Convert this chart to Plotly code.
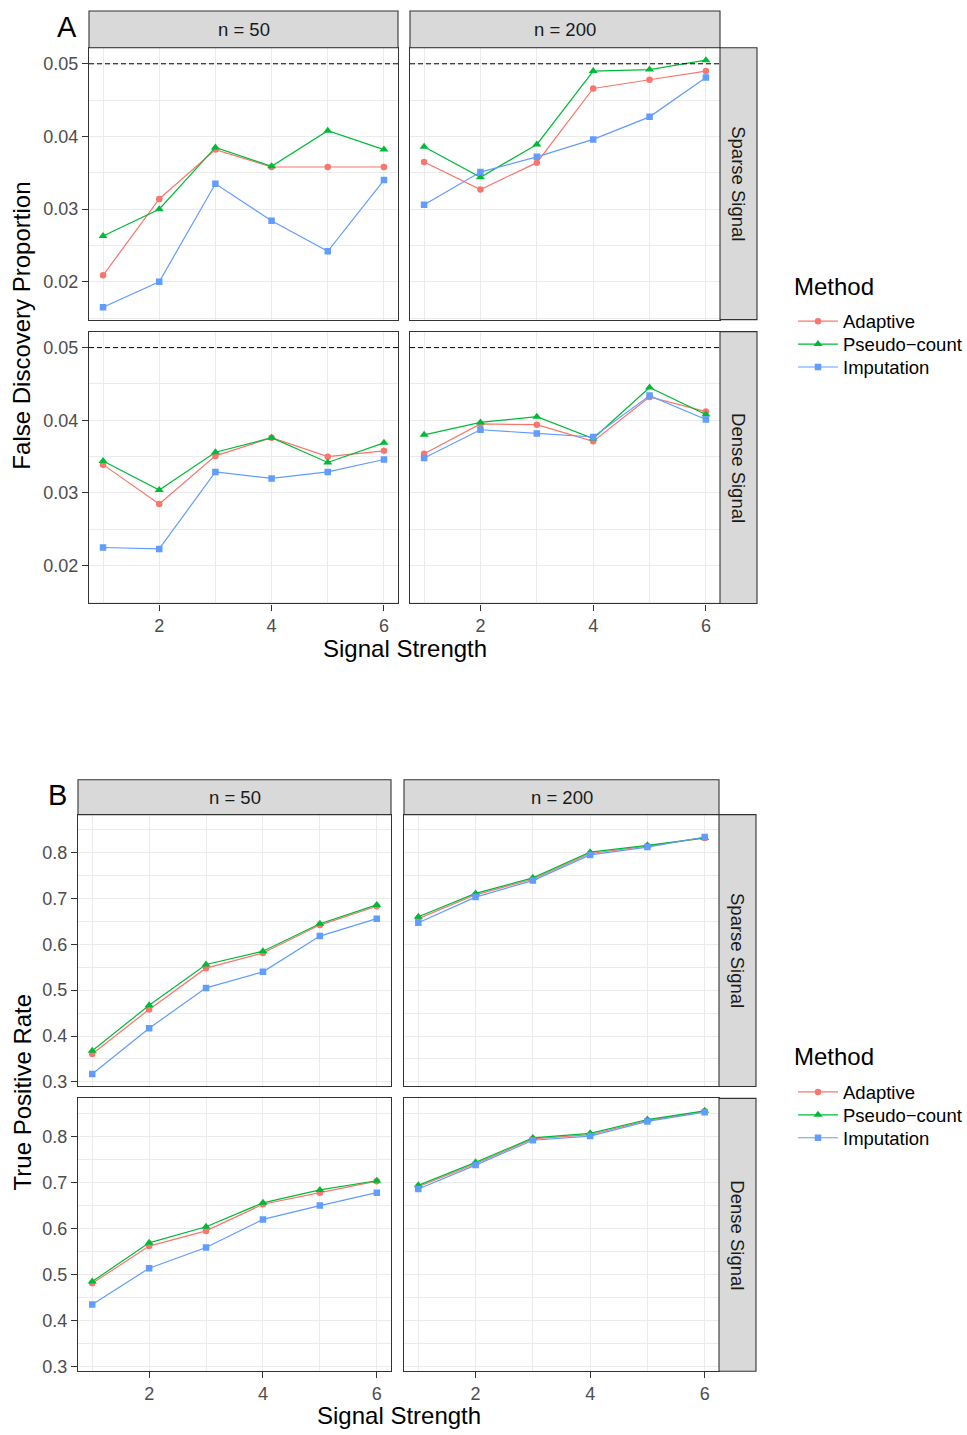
import plotly.graph_objects as go

# ---- data -------------------------------------------------------------
signal_strength = [1, 2, 3, 4, 5, 6]
methods = ["Adaptive", "Pseudo\u2212count", "Imputation"]
sample_sizes = ["n = 50", "n = 200"]
signal_types = ["Sparse Signal", "Dense Signal"]
fdr_level = 0.05

# False discovery proportion
fdr_sparse_n50_adaptive = [0.0209, 0.0314, 0.0382, 0.0358, 0.0358, 0.0358]
fdr_sparse_n50_pseudo = [0.0263, 0.0300, 0.0385, 0.0359, 0.0408, 0.0382]
fdr_sparse_n50_imputation = [0.0165, 0.0200, 0.0335, 0.0284, 0.0242, 0.0340]

fdr_sparse_n200_adaptive = [0.0365, 0.0327, 0.0364, 0.0466, 0.0478, 0.0490]
fdr_sparse_n200_pseudo = [0.0386, 0.0344, 0.0389, 0.0490, 0.0492, 0.0505]
fdr_sparse_n200_imputation = [0.0306, 0.0351, 0.0372, 0.0396, 0.0427, 0.0481]

fdr_dense_n50_adaptive = [0.0339, 0.0285, 0.0351, 0.0376, 0.0350, 0.0358]
fdr_dense_n50_pseudo = [0.0344, 0.0304, 0.0356, 0.0376, 0.0342, 0.0369]
fdr_dense_n50_imputation = [0.0225, 0.0223, 0.0329, 0.0320, 0.0329, 0.0346]

fdr_dense_n200_adaptive = [0.0354, 0.0395, 0.0394, 0.0371, 0.0432, 0.0412]
fdr_dense_n200_pseudo = [0.0380, 0.0397, 0.0405, 0.0375, 0.0445, 0.0408]
fdr_dense_n200_imputation = [0.0348, 0.0387, 0.0382, 0.0377, 0.0434, 0.0401]

# True positive rate
tpr_sparse_n50_adaptive = [0.361, 0.458, 0.548, 0.581, 0.642, 0.683]
tpr_sparse_n50_pseudo = [0.368, 0.467, 0.556, 0.585, 0.645, 0.686]
tpr_sparse_n50_imputation = [0.317, 0.417, 0.505, 0.540, 0.618, 0.656]

tpr_sparse_n200_adaptive = [0.656, 0.708, 0.742, 0.798, 0.814, 0.832]
tpr_sparse_n200_pseudo = [0.660, 0.711, 0.745, 0.801, 0.816, 0.832]
tpr_sparse_n200_imputation = [0.647, 0.703, 0.739, 0.795, 0.812, 0.834]

tpr_dense_n50_adaptive = [0.481, 0.562, 0.595, 0.653, 0.678, 0.703]
tpr_dense_n50_pseudo = [0.485, 0.569, 0.604, 0.656, 0.684, 0.704]
tpr_dense_n50_imputation = [0.435, 0.514, 0.559, 0.620, 0.650, 0.678]

tpr_dense_n200_adaptive = [0.691, 0.741, 0.795, 0.804, 0.835, 0.855]
tpr_dense_n200_pseudo = [0.694, 0.744, 0.797, 0.807, 0.837, 0.856]
tpr_dense_n200_imputation = [0.686, 0.738, 0.792, 0.801, 0.833, 0.853]

fdr_ticks = [0.02, 0.03, 0.04, 0.05]
fdr_minor = [0.015, 0.025, 0.035, 0.045]
tpr_ticks = [0.3, 0.4, 0.5, 0.6, 0.7, 0.8]
tpr_minor = [0.35, 0.45, 0.55, 0.65, 0.75, 0.85]
x_ticks = [2, 4, 6]
x_minor = [1, 3, 5]

# ---- styling ----------------------------------------------------------
W, H = 967, 1435
FONT = "Liberation Sans, Arial, sans-serif"
colors = ["#F8766D", "#00BA38", "#619CFF"]
symbols = ["circle", "triangle-up", "square"]
marker_sizes = [6.5, 8, 6.5]
GRID = "#EBEBEB"
BORDER = "#333333"
STRIP_FILL = "#D9D9D9"
TICK_SIZE = 18
STRIP_SIZE = 18.5
LEGEND_SIZE = 18.5
TITLE_SIZE = 24

fdr_panels = [
    [[fdr_sparse_n50_adaptive, fdr_sparse_n50_pseudo, fdr_sparse_n50_imputation],
     [fdr_sparse_n200_adaptive, fdr_sparse_n200_pseudo, fdr_sparse_n200_imputation]],
    [[fdr_dense_n50_adaptive, fdr_dense_n50_pseudo, fdr_dense_n50_imputation],
     [fdr_dense_n200_adaptive, fdr_dense_n200_pseudo, fdr_dense_n200_imputation]],
]
tpr_panels = [
    [[tpr_sparse_n50_adaptive, tpr_sparse_n50_pseudo, tpr_sparse_n50_imputation],
     [tpr_sparse_n200_adaptive, tpr_sparse_n200_pseudo, tpr_sparse_n200_imputation]],
    [[tpr_dense_n50_adaptive, tpr_dense_n50_pseudo, tpr_dense_n50_imputation],
     [tpr_dense_n200_adaptive, tpr_dense_n200_pseudo, tpr_dense_n200_imputation]],
]


def px_x(p):
    return p / W


def px_y(p):
    return 1 - p / H


def padded(lo, hi, frac=0.05):
    pad = (hi - lo) * frac
    return [lo - pad, hi + pad]


x_range = padded(min(signal_strength), max(signal_strength))

# pixel geometry of each block of facets
blocks = [
    dict(panels=fdr_panels, label="A", title="False Discovery Proportion",
         cols=[(89, 398), (410, 720)], rows=[(48, 321), (333, 606)],
         strip_top=11, strip_right=757, ticks=fdr_ticks, minor=fdr_minor,
         fmt=".2f", hline=True, legend_base=1,
         label_xy=(67, 27), ytitle_xy=(22, 327), xtitle_y=651,
         key_title_y=288, key_rows=[323, 346, 369]),
    dict(panels=tpr_panels, label="B", title="True Positive Rate",
         cols=[(78, 391), (404, 719)], rows=[(818, 1091), (1103, 1377)],
         strip_top=783, strip_right=756, ticks=tpr_ticks, minor=tpr_minor,
         fmt=".1f", hline=False, legend_base=4,
         label_xy=(57, 798), ytitle_xy=(22, 1097), xtitle_y=1421,
         key_title_y=1061, key_rows=[1097, 1120, 1143]),
]

KEY_X = 793

fig = go.Figure()
layout = {}
shapes = []
annotations = []
axis_k = 0

for blk in blocks:
    all_vals = [v for row in blk["panels"] for col in row for s in col for v in s]
    hi = max(all_vals + ([fdr_level] if blk["hline"] else []))
    y_range = padded(min(all_vals), hi)

    legend_ids = []
    for m in range(len(methods)):
        k = blk["legend_base"] + m
        lid = "legend" if k == 1 else "legend" + str(k)
        legend_ids.append(lid)
        layout[lid] = dict(
            x=px_x(KEY_X), y=px_y(blk["key_rows"][m]),
            xanchor="left", yanchor="middle", bgcolor="rgba(0,0,0,0)",
            font=dict(family=FONT, size=LEGEND_SIZE, color="black"),
            itemwidth=40, tracegroupgap=0,
        )

    for r, (y0, y1) in enumerate(blk["rows"]):
        for c, (x0, x1) in enumerate(blk["cols"]):
            axis_k += 1
            sid = "" if axis_k == 1 else str(axis_k)
            bottom = r == len(blk["rows"]) - 1
            left = c == 0
            layout["xaxis" + sid] = dict(
                domain=[px_x(x0), px_x(x1)], anchor="y" + sid, range=x_range,
                tickmode="array", tickvals=x_ticks,
                minor=dict(tickmode="array", tickvals=x_minor, showgrid=True,
                           gridcolor=GRID, gridwidth=0.6),
                showgrid=True, gridcolor=GRID, gridwidth=1.1, zeroline=False,
                showline=True, mirror=True, linecolor=BORDER, linewidth=1.1,
                ticks="outside" if bottom else "", ticklen=6, tickcolor=BORDER,
                tickwidth=1.1, showticklabels=bottom,
                tickfont=dict(family=FONT, size=TICK_SIZE, color="#4D4D4D"),
            )
            layout["yaxis" + sid] = dict(
                domain=[px_y(y1), px_y(y0)], anchor="x" + sid, range=y_range,
                tickmode="array", tickvals=blk["ticks"], tickformat=blk["fmt"],
                minor=dict(tickmode="array", tickvals=blk["minor"], showgrid=True,
                           gridcolor=GRID, gridwidth=0.6),
                showgrid=True, gridcolor=GRID, gridwidth=1.1, zeroline=False,
                showline=True, mirror=True, linecolor=BORDER, linewidth=1.1,
                ticks="outside" if left else "", ticklen=6, tickcolor=BORDER,
                tickwidth=1.1, showticklabels=left,
                tickfont=dict(family=FONT, size=TICK_SIZE, color="#4D4D4D"),
            )
            if blk["hline"]:
                shapes.append(dict(
                    type="line", xref="x" + sid + " domain", x0=0, x1=1,
                    yref="y" + sid, y0=fdr_level, y1=fdr_level,
                    line=dict(color="black", width=1, dash="5px,3px"),
                ))
            for m, name in enumerate(methods):
                fig.add_trace(go.Scatter(
                    x=signal_strength, y=blk["panels"][r][c][m],
                    mode="lines+markers", name=name,
                    line=dict(color=colors[m], width=1.2),
                    marker=dict(symbol=symbols[m], size=marker_sizes[m], color=colors[m]),
                    xaxis="x" + sid, yaxis="y" + sid,
                    legend=legend_ids[m], legendgroup=legend_ids[m],
                    showlegend=(r == 0 and c == 0),
                ))

    # column strips
    for c, (x0, x1) in enumerate(blk["cols"]):
        top_panel = blk["rows"][0][0]
        shapes.append(dict(type="rect", xref="paper", yref="paper",
                           x0=px_x(x0), x1=px_x(x1), y0=px_y(top_panel), y1=px_y(blk["strip_top"]),
                           fillcolor=STRIP_FILL, line=dict(color=BORDER, width=1.1)))
        annotations.append(dict(text=sample_sizes[c], xref="paper", yref="paper",
                                x=px_x((x0 + x1) / 2), y=px_y((blk["strip_top"] + top_panel) / 2),
                                showarrow=False, xanchor="center", yanchor="middle",
                                font=dict(family=FONT, size=STRIP_SIZE, color="#1A1A1A")))
    # row strips
    right_panel = blk["cols"][-1][1]
    for r, (y0, y1) in enumerate(blk["rows"]):
        shapes.append(dict(type="rect", xref="paper", yref="paper",
                           x0=px_x(right_panel), x1=px_x(blk["strip_right"]), y0=px_y(y1), y1=px_y(y0),
                           fillcolor=STRIP_FILL, line=dict(color=BORDER, width=1.1)))
        annotations.append(dict(text=signal_types[r], xref="paper", yref="paper",
                                x=px_x((right_panel + blk["strip_right"]) / 2), y=px_y((y0 + y1) / 2),
                                showarrow=False, textangle=90, xanchor="center", yanchor="middle",
                                font=dict(family=FONT, size=STRIP_SIZE, color="#1A1A1A")))

    # panel letter
    annotations.append(dict(text=blk["label"], xref="paper", yref="paper",
                            x=px_x(blk["label_xy"][0]), y=px_y(blk["label_xy"][1]),
                            showarrow=False, xanchor="center", yanchor="middle",
                            font=dict(family=FONT, size=29, color="black")))
    # y title
    annotations.append(dict(text=blk["title"], xref="paper", yref="paper",
                            x=px_x(blk["ytitle_xy"][0]), y=px_y(blk["ytitle_xy"][1]),
                            showarrow=False, textangle=-90, xanchor="center", yanchor="middle",
                            font=dict(family=FONT, size=TITLE_SIZE, color="black")))
    # x title
    xl = blk["cols"][0][0]
    xr = blk["cols"][-1][1]
    annotations.append(dict(text="Signal Strength", xref="paper", yref="paper",
                            x=px_x((xl + xr) / 2), y=px_y(blk["xtitle_y"]),
                            showarrow=False, xanchor="center", yanchor="middle",
                            font=dict(family=FONT, size=TITLE_SIZE, color="black")))
    # legend title
    annotations.append(dict(text="Method", xref="paper", yref="paper",
                            x=px_x(KEY_X - 1), y=px_y(blk["key_title_y"]),
                            showarrow=False, xanchor="left", yanchor="middle",
                            font=dict(family=FONT, size=TITLE_SIZE, color="black")))

fig.update_layout(
    width=W, height=H, margin=dict(l=0, r=0, t=0, b=0),
    paper_bgcolor="white", plot_bgcolor="white",
    shapes=shapes, annotations=annotations,
    **layout,
)

fig.write_html("out.html")
